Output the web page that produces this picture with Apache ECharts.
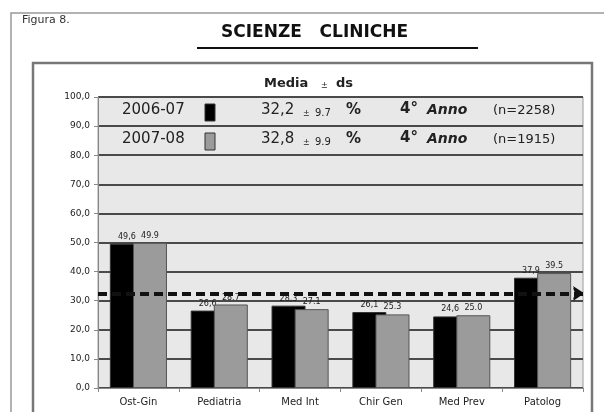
<!DOCTYPE html>
<html>
<head>
<meta charset="utf-8">
<script src="https://cdn.jsdelivr.net/npm/echarts@6/dist/echarts.min.js"></script>
<style>
html,body{margin:0;padding:0;background:#fff;}
#chart{width:604px;height:412px;}
</style>
</head>
<body>
<div id="chart"></div>
<script>
// Aree disciplinari (asse delle categorie)
const categories = ['Ost-Gin', 'Pediatria', 'Med Int', 'Chir Gen', 'Med Prev', 'Patolog'];
// Percentuali medie per anno accademico
const year1Name = '2006-07';
const year2Name = '2007-08';
const year1Values = [49.6, 26.6, 28.3, 26.1, 24.6, 37.9];
const year2Values = [49.9, 28.7, 27.1, 25.3, 25.0, 39.5];
// Media ± ds complessiva e numerosità
const means = [32.2, 32.8];
const sds = [9.7, 9.9];
const counts = [2258, 1915];
const yTicks = [0, 10, 20, 30, 40, 50, 60, 70, 80, 90, 100];

const chart = echarts.init(document.getElementById('chart'));
const fmtComma = v => v.toFixed(1).replace('.', ',');
const txtFont = '"DejaVu Sans", sans-serif';

function legendRow(y, name, color, mean, sd, n) {
  return [
    { type: 'text', left: 122, top: y - 9, style: { text: name, font: '15px ' + txtFont, fill: '#222' } },
    { type: 'rect', shape: { x: 205, y: y - 8, width: 10, height: 17 }, style: { fill: color, stroke: '#333', lineWidth: 1 } },
    { type: 'text', left: 261, top: y - 9, style: { text: fmtComma(mean), font: '15px ' + txtFont, fill: '#222' } },
    { type: 'text', left: 303, top: y - 2, style: { text: '±', font: '8px ' + txtFont, fill: '#222' } },
    { type: 'text', left: 315, top: y - 4, style: { text: sd.toFixed(1), font: '10px ' + txtFont, fill: '#222' } },
    { type: 'text', left: 346, top: y - 9, style: { text: '%', font: 'bold 15px ' + txtFont, fill: '#222' } },
    { type: 'text', left: 400, top: y - 10, style: { text: '4°', font: 'bold 15px ' + txtFont, fill: '#222' } },
    { type: 'text', left: 427, top: y - 9, style: { text: 'Anno', font: 'italic bold 14px ' + txtFont, fill: '#222' } },
    { type: 'text', left: 493, top: y - 8, style: { text: '(n=' + n + ')', font: '13px ' + txtFont, fill: '#222' } }
  ];
}

const option = {
  animation: false,
  backgroundColor: '#ffffff',
  grid: { left: 98, right: 21, top: 97, bottom: 24, show: true, backgroundColor: '#e8e8e8', borderColor: '#9a9a9a', borderWidth: 1 },
  xAxis: {
    type: 'category',
    data: categories,
    axisLine: { lineStyle: { color: '#888', width: 1 } },
    axisTick: { show: true, length: 4, lineStyle: { color: '#888' } },
    axisLabel: { color: '#222', fontSize: 10, fontFamily: txtFont, margin: 9 }
  },
  yAxis: {
    type: 'value',
    min: yTicks[0],
    max: yTicks[yTicks.length - 1],
    interval: 10,
    axisLine: { show: true, lineStyle: { color: '#888', width: 1 } },
    axisTick: { show: true, length: 4, lineStyle: { color: '#888' } },
    axisLabel: { color: '#222', fontSize: 9, fontFamily: txtFont, margin: 8, formatter: v => fmtComma(v) },
    splitLine: { lineStyle: { color: '#4a4a4a', width: 2 } }
  },
  series: [
    {
      name: year1Name,
      type: 'bar',
      data: year1Values,
      barWidth: 34,
      barGap: '-32%',
      itemStyle: { color: '#000000', borderColor: '#333', borderWidth: 1 },
      label: { show: true, position: 'top', distance: 3, fontSize: 8, color: '#222', fontFamily: txtFont, formatter: p => fmtComma(p.value) },
      markLine: {
        silent: true,
        symbol: ['none', 'arrow'],
        symbolSize: 10,
        label: { show: false },
        lineStyle: { color: '#111', type: [9, 5], width: 2.2 },
        data: [{ yAxis: means[0] }, { yAxis: means[1] }]
      },
      z: 2
    },
    {
      name: year2Name,
      type: 'bar',
      data: year2Values,
      barWidth: 34,
      itemStyle: { color: '#9b9b9b', borderColor: '#555', borderWidth: 1 },
      label: { show: true, position: 'top', distance: 3, fontSize: 8, color: '#222', fontFamily: txtFont, formatter: p => p.value.toFixed(1) },
      z: 3
    }
  ],
  graphic: [
    // cornice esterna della pagina
    { type: 'polyline', shape: { points: [[11, 412], [11, 13], [604, 13]] }, style: { stroke: '#999', lineWidth: 1.5, fill: null } },
    { type: 'text', left: 22, top: 15, style: { text: 'Figura 8.', font: '11px ' + txtFont, fill: '#333' } },
    { type: 'text', left: 221, top: 24, style: { text: 'SCIENZE   CLINICHE', font: 'bold 17px ' + txtFont, fill: '#111' } },
    { type: 'line', shape: { x1: 197, y1: 48, x2: 478, y2: 48 }, style: { stroke: '#111', lineWidth: 2 } },
    // riquadro del grafico
    { type: 'polyline', shape: { points: [[33, 412], [33, 63], [592, 63], [592, 412]] }, style: { stroke: '#777', lineWidth: 2.5, fill: null } },
    { type: 'text', left: 264, top: 77, style: { text: 'Media', font: 'bold 13px ' + txtFont, fill: '#222' } },
    { type: 'text', left: 321, top: 82, style: { text: '±', font: '8px ' + txtFont, fill: '#222' } },
    { type: 'text', left: 336, top: 77, style: { text: 'ds', font: 'bold 13px ' + txtFont, fill: '#222' } }
  ]
    .concat(legendRow(112, year1Name, '#000000', means[0], sds[0], counts[0]))
    .concat(legendRow(141, year2Name, '#9b9b9b', means[1], sds[1], counts[1]))
};

chart.setOption(option);
</script>
</body>
</html>
